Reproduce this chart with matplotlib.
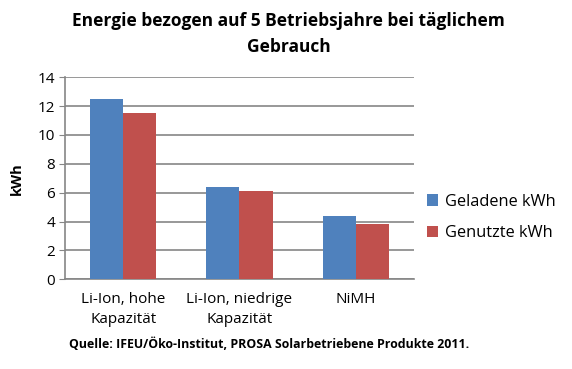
import numpy as np
import matplotlib.pyplot as plt

categories = ["Li-Ion, hohe\nKapazität", "Li-Ion, niedrige\nKapazität", "NiMH"]
geladen = [12.5, 6.4, 4.4]
genutzt = [11.5, 6.1, 3.8]
series_names = ["Geladene kWh", "Genutzte kWh"]
yticks = [0, 2, 4, 6, 8, 10, 12, 14]

plt.rcParams['font.family'] = ['Open Sans', 'DejaVu Sans']

fig = plt.figure(figsize=(5.72, 3.69), dpi=100)
ax = fig.add_axes([0.1136, 0.243, 0.61, 0.548])

x = np.arange(len(categories))
w = 0.285
b1 = ax.bar(x - w/2, geladen, w, color='#4F81BD', label=series_names[0], zorder=3)
b2 = ax.bar(x + w/2, genutzt, w, color='#C0504D', label=series_names[1], zorder=3)

ax.set_xlim(-0.5, 2.5)
ax.set_ylim(0, 14)
ax.set_yticks(yticks)
ax.set_xticks(x)
ax.set_xticklabels(categories, fontsize=11, linespacing=1.5)
ax.tick_params(axis='y', labelsize=11, length=4, color='#868686', pad=3)
ax.tick_params(axis='x', length=0, pad=9)
ax.yaxis.grid(True, color='#868686', linewidth=1.2, zorder=0)
for s in ['top', 'right']:
    ax.spines[s].set_visible(False)
for s in ['left', 'bottom']:
    ax.spines[s].set_color('#868686')
    ax.spines[s].set_linewidth(1.2)

ax.set_ylabel("kWh", fontsize=10.5, fontweight='bold', labelpad=10)

fig.text(0.505, 0.907, "Energie bezogen auf 5 Betriebsjahre bei täglichem\nGebrauch",
         ha='center', va='center', fontsize=12.5, fontweight='bold', linespacing=1.55)

fig.legend(handles=[b1, b2], loc='center left', bbox_to_anchor=(0.72, 0.41),
           frameon=False, fontsize=11.8, handlelength=0.7, handleheight=0.7,
           handletextpad=0.4, labelspacing=0.95)

fig.text(0.12, 0.066, "Quelle: IFEU/Öko-Institut, PROSA Solarbetriebene Produkte 2011.",
         fontsize=8.95, fontweight='bold', va='center')

plt.savefig("out.png", dpi=100)
